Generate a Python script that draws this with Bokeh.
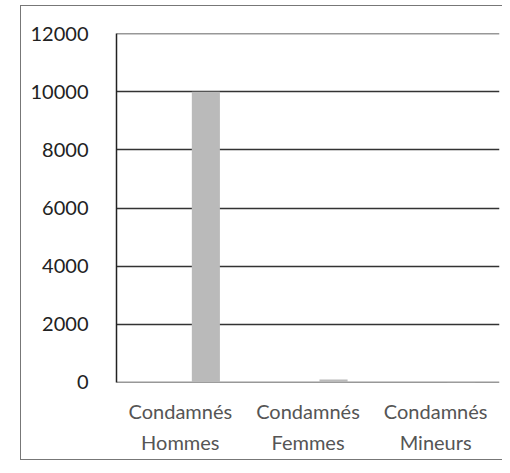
from bokeh.plotting import figure
from bokeh.models import ColumnDataSource, FixedTicker
from bokeh.transform import dodge
from bokeh.embed import file_html
from bokeh.resources import INLINE

categories = ["Condamnés\nHommes", "Condamnés\nFemmes", "Condamnés\nMineurs"]
values = [10000, 90, 10]
y_ticks = [0, 2000, 4000, 6000, 8000, 10000, 12000]

source = ColumnDataSource(data=dict(cat=categories, val=values))

p = figure(x_range=categories, y_range=(-10, 12010), width=482, height=455,
           output_backend="svg", toolbar_location=None,
           min_border_left=95, min_border_right=4, min_border_top=27, min_border_bottom=79)
p.margin = (5, 0, 0, 20)
p.styles = {"border-left": "1px solid #777", "border-top": "1px solid #777",
            "border-bottom": "1px solid #777"}

p.vbar(x=dodge("cat", 0.2, range=p.x_range), top="val", width=0.22, source=source,
       fill_color="#bababa", line_color=None)

p.outline_line_color = None
p.background_fill_color = "white"
p.border_fill_color = "white"

p.yaxis.ticker = FixedTicker(ticks=y_ticks)
p.yaxis.major_tick_line_color = None
p.yaxis.minor_tick_line_color = None
p.yaxis.axis_line_color = "#222222"
p.yaxis.axis_line_width = 1.5
p.yaxis.major_label_text_font = "Lato"
p.yaxis.major_label_text_font_size = "20px"
p.yaxis.major_label_text_color = "#222222"
p.yaxis.major_label_standoff = 22

p.xaxis.axis_line_color = None
p.xaxis.major_tick_line_color = None
p.xaxis.minor_tick_line_color = None
p.xaxis.major_label_text_font = "Lato"
p.xaxis.major_label_text_font_size = "20px"
p.xaxis.major_label_text_line_height = 1.3
p.xaxis.major_label_text_color = "#555555"
p.xaxis.major_label_standoff = 10

p.xgrid.grid_line_color = None
p.ygrid.grid_line_color = "#333333"
p.ygrid.grid_line_width = 1.6

open("out.html", "w").write(file_html(p, INLINE))
